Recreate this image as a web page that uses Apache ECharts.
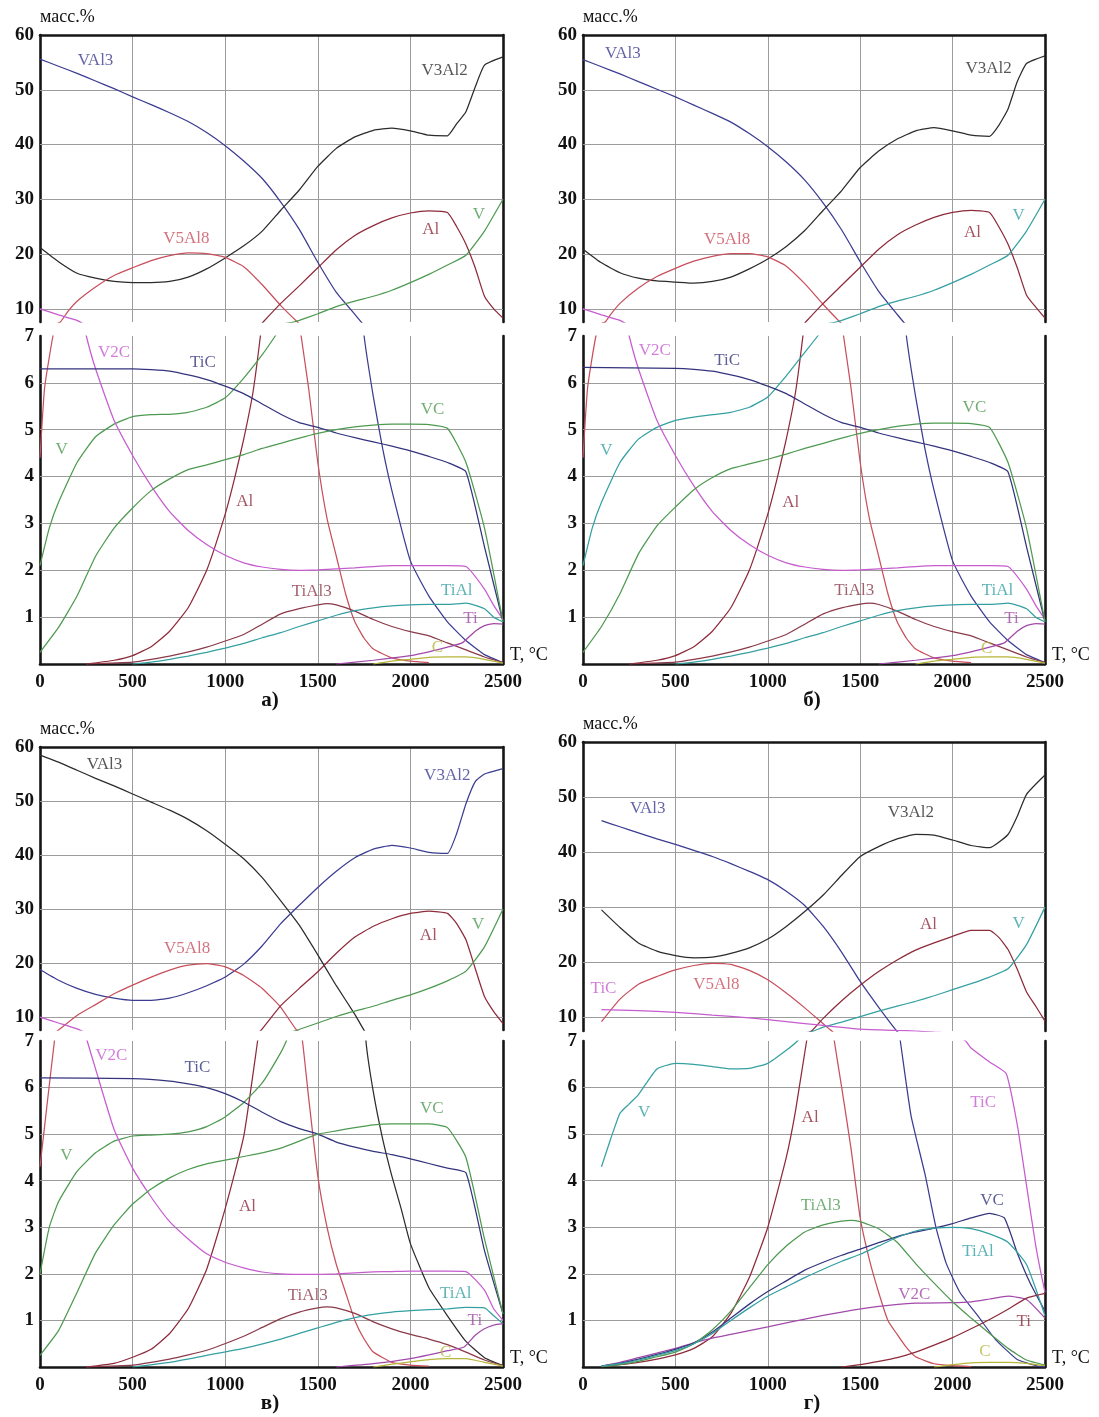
<!DOCTYPE html>
<html><head><meta charset="utf-8">
<script src="https://cdn.jsdelivr.net/npm/echarts@6/dist/echarts.min.js"></script>
<style>html,body{margin:0;padding:0;background:#fff}#c{width:1099px;height:1417px}</style>
</head><body><div id="c"></div><script>
// ---------- axis ticks ----------
const T_TICKS = [0, 500, 1000, 1500, 2000, 2500];
const UPPER_TICKS = [10, 20, 30, 40, 50, 60];
const UPPER_GRIDLINES = [10, 20, 30, 40, 50];
const LOWER_TICKS = [1, 2, 3, 4, 5, 6, 7];
const LOWER_GRIDLINES = [1, 2, 3, 4, 5, 6];

// ---------- panel а) ----------
const a_VAl3 = [[0,55.6],[100,54.3],[200,53],[300,51.6],[400,50.2],[500,48.7],[600,47.3],[700,45.8],[800,44.2],[900,42.2],[1000,39.8],[1100,37],[1200,33.8],[1300,29.5],[1400,24.5],[1500,18.5],[1600,13],[1700,9],[1750,7],[1800,5.7],[1850,4.6],[1900,3.7],[2000,2.2],[2100,1.45],[2200,0.9],[2300,0.5],[2400,0.2],[2500,0.03]];
const a_V3Al2 = [[0,21.2],[100,18.6],[200,16.5],[300,15.6],[400,15],[500,14.8],[600,14.8],[700,15],[800,15.8],[900,17.3],[1000,19.3],[1100,21.5],[1200,24.2],[1300,28],[1400,31.7],[1500,36],[1600,39.3],[1700,41.4],[1800,42.6],[1900,43],[2000,42.5],[2100,41.7],[2200,41.6],[2250,43.8],[2300,46],[2350,50.5],[2400,54.5],[2500,56]];
const a_V5Al8 = [[0,4.4],[25,5.9],[70,7],[110,7.6],[150,9.5],[200,11.4],[300,14],[400,16.1],[500,17.5],[600,18.8],[700,19.7],[800,20.2],[900,20.1],[1000,19.4],[1100,17.7],[1200,14.4],[1300,10.6],[1390,7.6],[1410,7],[1450,5.9],[1500,4.3],[1550,3.1],[1600,2.3],[1650,1.5],[1700,0.9],[1750,0.55],[1800,0.32],[1900,0.13],[2000,0.06],[2100,0.03]];
const a_Al = [[250,0],[400,0.08],[500,0.18],[600,0.37],[700,0.7],[800,1.2],[900,2.0],[1000,3.2],[1050,3.95],[1100,4.8],[1150,5.8],[1190,7],[1205,7.6],[1300,11],[1400,14.2],[1500,17.5],[1600,20.8],[1700,23.4],[1800,25.2],[1900,26.6],[2000,27.5],[2100,27.9],[2200,27.6],[2250,25],[2300,21.8],[2350,17.5],[2400,12.3],[2450,10],[2500,8.3]];
const a_V = [[0,2.1],[50,2.9],[100,3.45],[200,4.3],[300,4.85],[400,5.12],[500,5.28],[600,5.32],[700,5.33],[800,5.37],[900,5.48],[1000,5.68],[1100,6.1],[1200,6.6],[1270,7],[1370,7.6],[1400,7.9],[1500,9.1],[1600,10.4],[1700,11.4],[1800,12.3],[1900,13.4],[2000,14.8],[2100,16.3],[2200,18],[2300,19.8],[2400,24.2],[2500,30]];
const a_V2C = [[0,10],[100,8.9],[200,7.9],[250,7],[300,6.3],[400,5.2],[500,4.45],[600,3.8],[700,3.25],[800,2.85],[900,2.55],[1000,2.32],[1100,2.16],[1200,2.07],[1300,2.02],[1400,2.0],[1500,2.01],[1600,2.03],[1700,2.05],[1800,2.08],[1900,2.1],[2000,2.1],[2100,2.1],[2200,2.1],[2300,2.08],[2400,1.6],[2450,1.25],[2500,0.95]];
const a_TiC = [[0,6.3],[500,6.3],[600,6.28],[700,6.25],[800,6.17],[900,6.07],[1000,5.93],[1100,5.77],[1200,5.55],[1300,5.33],[1400,5.15],[1500,5.05],[1600,4.93],[1700,4.83],[1800,4.74],[1900,4.65],[2000,4.55],[2100,4.43],[2200,4.3],[2300,4.1],[2400,2.5],[2500,0.9]];
const a_VC = [[0,0.25],[100,0.78],[200,1.45],[300,2.3],[400,2.9],[500,3.33],[600,3.7],[700,3.95],[800,4.15],[900,4.25],[1000,4.36],[1100,4.47],[1200,4.6],[1300,4.71],[1400,4.82],[1500,4.92],[1600,5.0],[1700,5.06],[1800,5.1],[1900,5.12],[2000,5.12],[2100,5.11],[2200,5.03],[2300,4.3],[2400,2.9],[2500,0.9]];
const a_TiAl3 = [[250,0],[500,0.04],[700,0.17],[900,0.36],[1100,0.63],[1200,0.85],[1300,1.07],[1400,1.18],[1500,1.26],[1550,1.29],[1600,1.26],[1700,1.13],[1800,0.95],[1900,0.8],[2000,0.69],[2100,0.6],[2200,0.45],[2300,0.3],[2400,0.15],[2500,0.03]];
const a_TiAl = [[500,0],[600,0.04],[700,0.1],[800,0.17],[900,0.25],[1000,0.34],[1100,0.44],[1200,0.56],[1300,0.67],[1400,0.8],[1500,0.92],[1600,1.04],[1700,1.14],[1800,1.2],[1900,1.24],[2000,1.26],[2100,1.27],[2200,1.27],[2300,1.3],[2400,1.18],[2450,1.0],[2500,0.9]];
const a_Ti = [[1600,0],[1800,0.08],[2000,0.18],[2100,0.26],[2200,0.36],[2280,0.45],[2350,0.7],[2400,0.82],[2450,0.86],[2500,0.85]];
const a_C = [[1800,0],[1900,0.06],[2000,0.1],[2100,0.14],[2200,0.15],[2300,0.15],[2400,0.1],[2500,0.02]];

// ---------- panel б) ----------
const b_VAl3 = [[0,55.5],[100,54.2],[200,52.9],[300,51.5],[400,50.1],[500,48.7],[600,47.2],[700,45.7],[800,44.1],[900,42],[1000,39.6],[1100,36.8],[1200,33.5],[1300,29.3],[1400,24.4],[1500,18.6],[1600,13.2],[1700,9],[1750,7],[1800,5.7],[1850,4.6],[1900,3.7],[2000,2.2],[2100,1.45],[2200,0.9],[2300,0.5],[2400,0.2],[2500,0.03]];
const b_V3Al2 = [[0,20.9],[100,18.4],[200,16.6],[300,15.6],[400,15.1],[500,14.9],[600,14.7],[700,15],[800,15.8],[900,17.3],[1000,19.1],[1100,21.4],[1200,24.3],[1300,28],[1400,31.6],[1500,35.8],[1600,38.8],[1700,41],[1800,42.5],[1900,43.1],[2000,42.5],[2100,41.7],[2200,41.5],[2250,43.5],[2300,46.5],[2350,51.5],[2400,54.8],[2500,56.2]];
const b_V5Al8 = [[0,4.4],[25,5.9],[70,7],[120,7.6],[150,9],[200,11],[300,13.8],[400,15.9],[500,17.4],[600,18.7],[700,19.6],[800,20.1],[900,20.1],[1000,19.5],[1100,17.8],[1200,14.6],[1300,10.8],[1390,7.6],[1410,7],[1450,5.9],[1500,4.3],[1550,3.1],[1600,2.3],[1650,1.5],[1700,0.9],[1750,0.55],[1800,0.32],[1900,0.13],[2000,0.06],[2100,0.03]];
const b_Al = [[250,0],[400,0.08],[500,0.18],[600,0.37],[700,0.7],[800,1.2],[900,2.0],[1000,3.2],[1050,3.95],[1100,4.8],[1150,5.8],[1190,7],[1205,7.6],[1300,11],[1400,14.3],[1500,17.6],[1600,20.9],[1700,23.5],[1800,25.3],[1900,26.7],[2000,27.6],[2100,28],[2200,27.6],[2250,25],[2300,21.8],[2350,17.5],[2400,12.5],[2450,10.3],[2500,8.3]];
const b_V = [[0,2.1],[50,2.9],[100,3.45],[200,4.3],[300,4.8],[400,5.05],[500,5.2],[600,5.27],[700,5.32],[800,5.37],[900,5.48],[1000,5.7],[1100,6.15],[1200,6.65],[1270,7],[1370,7.6],[1400,7.9],[1500,9.1],[1600,10.4],[1700,11.4],[1800,12.3],[1900,13.4],[2000,14.8],[2100,16.3],[2200,18],[2300,19.8],[2400,24.2],[2500,30]];
const b_V2C = [[0,10],[100,8.9],[200,7.9],[250,7],[300,6.3],[400,5.2],[500,4.45],[600,3.8],[700,3.25],[800,2.85],[900,2.55],[1000,2.32],[1100,2.16],[1200,2.07],[1300,2.02],[1400,2.0],[1500,2.01],[1600,2.03],[1700,2.05],[1800,2.08],[1900,2.1],[2000,2.1],[2100,2.1],[2200,2.1],[2300,2.08],[2400,1.6],[2450,1.25],[2500,0.95]];
const b_TiC = [[0,6.33],[500,6.31],[600,6.29],[700,6.25],[800,6.17],[900,6.07],[1000,5.93],[1100,5.77],[1200,5.55],[1300,5.33],[1400,5.15],[1500,5.05],[1600,4.93],[1700,4.83],[1800,4.74],[1900,4.65],[2000,4.55],[2100,4.43],[2200,4.3],[2300,4.1],[2400,2.5],[2500,0.9]];
const b_VC = [[0,0.25],[100,0.8],[200,1.5],[300,2.35],[400,2.95],[500,3.35],[600,3.72],[700,3.98],[800,4.17],[900,4.27],[1000,4.37],[1100,4.48],[1200,4.6],[1300,4.71],[1400,4.82],[1500,4.92],[1600,5.0],[1700,5.07],[1800,5.12],[1900,5.14],[2000,5.14],[2100,5.13],[2200,5.05],[2300,4.3],[2400,2.9],[2500,0.9]];
const b_TiAl3 = [[250,0],[500,0.04],[700,0.17],[900,0.36],[1100,0.63],[1200,0.85],[1300,1.07],[1400,1.2],[1500,1.28],[1550,1.3],[1600,1.27],[1700,1.13],[1800,0.95],[1900,0.8],[2000,0.69],[2100,0.6],[2200,0.45],[2300,0.3],[2400,0.15],[2500,0.03]];
const b_TiAl = [[500,0],[600,0.04],[700,0.1],[800,0.17],[900,0.25],[1000,0.34],[1100,0.44],[1200,0.56],[1300,0.67],[1400,0.8],[1500,0.92],[1600,1.04],[1700,1.14],[1800,1.2],[1900,1.24],[2000,1.26],[2100,1.27],[2200,1.27],[2300,1.3],[2400,1.18],[2450,1.0],[2500,0.9]];
const b_Ti = [[1600,0],[1800,0.08],[2000,0.18],[2100,0.26],[2200,0.36],[2280,0.45],[2350,0.7],[2400,0.82],[2450,0.86],[2500,0.85]];
const b_C = [[1800,0],[1900,0.06],[2000,0.1],[2100,0.14],[2200,0.15],[2300,0.15],[2400,0.1],[2500,0.02]];

// ---------- panel в) ----------
const c_VAl3 = [[0,58.5],[100,57.2],[200,55.7],[300,54.2],[400,52.8],[500,51.3],[600,49.8],[700,48.3],[800,46.6],[900,44.5],[1000,42],[1100,39.3],[1200,35.8],[1300,31.5],[1400,27],[1500,21.5],[1600,15.8],[1700,10.5],[1760,7],[1800,5.9],[1850,4.9],[1900,4.1],[1950,3.4],[2000,2.65],[2100,1.7],[2200,1.1],[2300,0.55],[2400,0.2],[2500,0.03]];
const c_V3Al2 = [[0,18.8],[100,16.8],[200,15.3],[300,14.2],[400,13.5],[500,13.1],[600,13.1],[700,13.5],[800,14.5],[900,15.8],[1000,17.4],[1100,19.8],[1200,23.2],[1300,27.3],[1400,30.7],[1500,34],[1600,37],[1700,39.5],[1800,41.1],[1900,41.8],[2000,41.3],[2100,40.5],[2200,40.3],[2250,44],[2300,49.5],[2350,53.6],[2400,55],[2500,56]];
const c_V5Al8 = [[0,4.3],[40,5.7],[78,7],[100,7.6],[200,10.3],[300,12.3],[400,14.3],[500,15.9],[600,17.4],[700,18.7],[800,19.6],[900,19.9],[1000,19.3],[1100,17.7],[1200,15.3],[1300,11.8],[1385,7.6],[1417,7],[1450,5.8],[1500,4.1],[1550,3.0],[1600,2.2],[1650,1.6],[1700,1.0],[1750,0.6],[1800,0.32],[1900,0.1],[2000,0.04],[2100,0.02]];
const c_Al = [[250,0],[400,0.08],[500,0.21],[600,0.38],[700,0.72],[800,1.25],[900,2.1],[1000,3.4],[1100,4.95],[1175,7],[1195,7.6],[1300,12.1],[1400,15.3],[1500,18.4],[1600,21.8],[1700,24.8],[1800,26.8],[1900,28.2],[2000,29.2],[2100,29.6],[2200,29.2],[2250,27.3],[2300,24.3],[2350,19],[2400,13.8],[2450,11],[2500,8.8]];
const c_V = [[0,2.0],[50,3.0],[100,3.55],[200,4.2],[300,4.6],[400,4.85],[500,4.96],[600,4.98],[700,5.0],[800,5.05],[900,5.16],[1000,5.37],[1100,5.68],[1200,6.1],[1300,6.75],[1330,7],[1390,7.6],[1500,8.9],[1600,10.1],[1700,11.1],[1800,12],[1900,13.1],[2000,14.1],[2100,15.3],[2200,16.7],[2300,18.5],[2400,23],[2500,30]];
const c_V2C = [[0,10],[100,8.9],[200,7.8],[255,7],[300,6.4],[400,5.1],[500,4.27],[600,3.65],[700,3.12],[800,2.75],[900,2.43],[1000,2.25],[1100,2.13],[1200,2.04],[1300,2.0],[1400,1.99],[1500,1.99],[1600,2.0],[1700,2.02],[1800,2.04],[1900,2.05],[2000,2.06],[2100,2.06],[2200,2.06],[2300,2.05],[2400,1.65],[2450,1.25],[2500,1.0]];
const c_TiC = [[0,6.21],[500,6.19],[700,6.14],[800,6.08],[900,6.0],[1000,5.87],[1100,5.69],[1200,5.47],[1300,5.27],[1400,5.12],[1500,5.0],[1600,4.83],[1700,4.72],[1800,4.63],[1900,4.56],[2000,4.47],[2100,4.37],[2200,4.27],[2300,4.17],[2400,2.5],[2500,1.14]];
const c_VC = [[0,0.25],[100,0.78],[200,1.6],[300,2.45],[400,3.05],[500,3.5],[600,3.82],[700,4.06],[800,4.24],[900,4.36],[1000,4.44],[1100,4.52],[1200,4.6],[1300,4.7],[1400,4.85],[1500,5.0],[1600,5.07],[1700,5.14],[1800,5.2],[1900,5.22],[2000,5.22],[2100,5.22],[2200,5.14],[2300,4.5],[2400,2.75],[2500,1.14]];
const c_TiAl3 = [[250,0],[500,0.04],[700,0.17],[900,0.36],[1100,0.66],[1200,0.85],[1300,1.04],[1400,1.18],[1500,1.27],[1550,1.29],[1600,1.27],[1700,1.15],[1800,0.97],[1900,0.82],[2000,0.7],[2100,0.6],[2200,0.48],[2300,0.32],[2400,0.15],[2500,0.03]];
const c_TiAl = [[500,0],[700,0.1],[900,0.25],[1100,0.4],[1300,0.6],[1400,0.72],[1500,0.84],[1600,0.96],[1700,1.06],[1800,1.13],[1900,1.18],[2000,1.21],[2100,1.23],[2200,1.25],[2300,1.28],[2400,1.27],[2450,1.1],[2500,0.93]];
const c_Ti = [[1600,0],[1800,0.07],[2000,0.18],[2100,0.26],[2200,0.35],[2290,0.43],[2350,0.68],[2400,0.82],[2450,0.9],[2500,0.93]];
const c_C = [[1800,0],[1900,0.06],[2000,0.11],[2100,0.16],[2200,0.18],[2300,0.18],[2400,0.1],[2500,0.02]];

// ---------- panel г) ----------
const d_VAl3 = [[100,45.7],[200,44.6],[300,43.5],[400,42.4],[500,41.4],[600,40.3],[700,39.2],[800,37.9],[900,36.5],[1000,35],[1100,32.9],[1200,30.3],[1300,26.5],[1400,21.8],[1500,16.5],[1600,11.8],[1700,7.4],[1717,7],[1775,5.4],[1850,4.15],[1910,3.0],[1965,2.23],[2040,1.6],[2140,1.08],[2230,0.6],[2350,0.16],[2460,0.02],[2500,0]];
const d_V3Al2 = [[100,29.5],[200,26.3],[300,23.5],[400,22.0],[500,21.2],[600,20.8],[700,20.9],[800,21.6],[900,22.6],[1000,24.2],[1100,26.5],[1200,29.2],[1300,32.2],[1400,35.8],[1500,39.2],[1600,41],[1700,42.4],[1800,43.2],[1900,43.1],[2000,42.2],[2100,41.2],[2200,40.8],[2300,43.2],[2350,46.5],[2400,50.5],[2500,54]];
const d_V5Al8 = [[100,9.2],[200,13.3],[300,16],[400,17.4],[500,18.6],[600,19.4],[700,19.8],[800,19.6],[900,18.5],[1000,16.8],[1100,14.4],[1200,11.7],[1300,8.8],[1350,7.4],[1360,7],[1400,6.0],[1450,4.7],[1500,3.2],[1550,2.3],[1600,1.6],[1650,1.0],[1700,0.7],[1750,0.42],[1800,0.22],[1900,0.07],[2000,0.03],[2100,0.01]];
const d_Al = [[100,0.01],[200,0.05],[300,0.1],[400,0.17],[500,0.26],[600,0.4],[700,0.65],[800,1.15],[900,1.92],[1000,3.0],[1100,4.5],[1150,5.5],[1210,7.0],[1240,7.6],[1300,9.8],[1400,13],[1500,15.8],[1600,18.3],[1700,20.4],[1800,22.2],[1900,23.5],[2000,24.7],[2100,25.8],[2200,25.8],[2250,24.5],[2300,22.3],[2350,18.7],[2400,14.6],[2450,12],[2500,9.3]];
const d_V = [[100,4.3],[150,4.9],[200,5.45],[250,5.65],[300,5.85],[400,6.4],[500,6.52],[600,6.5],[700,6.45],[800,6.4],[900,6.41],[1000,6.52],[1100,6.8],[1160,7.0],[1240,7.4],[1300,8.2],[1400,9.1],[1500,10.1],[1600,11.1],[1700,12],[1800,12.9],[1900,13.9],[2000,15],[2100,16.1],[2200,17.3],[2300,18.8],[2400,23.2],[2500,30]];
const d_TiC = [[100,11.4],[300,11.2],[500,10.9],[700,10.4],[900,9.9],[1100,9.2],[1300,8.5],[1500,7.85],[1700,7.6],[1800,7.5],[1900,7.3],[2000,7.15],[2070,7.0],[2100,6.85],[2200,6.55],[2290,6.3],[2350,5.2],[2400,3.9],[2450,2.6],[2500,1.6]];
const d_V2C = [[100,0.02],[200,0.1],[300,0.2],[400,0.3],[500,0.4],[600,0.52],[700,0.62],[800,0.7],[1000,0.86],[1200,1.03],[1400,1.18],[1600,1.3],[1800,1.37],[2000,1.38],[2100,1.4],[2200,1.46],[2300,1.52],[2400,1.45],[2500,1.05]];
const d_VC = [[100,0.02],[200,0.08],[300,0.17],[400,0.27],[500,0.38],[600,0.52],[700,0.75],[800,1.05],[900,1.35],[1000,1.62],[1100,1.85],[1200,2.08],[1300,2.25],[1400,2.4],[1500,2.53],[1600,2.67],[1700,2.8],[1800,2.9],[1900,2.98],[2000,3.08],[2100,3.2],[2200,3.3],[2280,3.2],[2350,2.45],[2420,1.8],[2500,1.2]];
const d_TiAl3 = [[100,0.01],[200,0.05],[300,0.12],[400,0.22],[500,0.32],[600,0.5],[700,0.8],[800,1.2],[900,1.7],[1000,2.2],[1100,2.6],[1200,2.9],[1300,3.05],[1400,3.13],[1450,3.15],[1500,3.12],[1600,2.97],[1700,2.68],[1800,2.22],[1900,1.8],[2000,1.4],[2100,1.05],[2200,0.72],[2300,0.4],[2400,0.15],[2500,0.04]];
const d_TiAl = [[100,0.02],[200,0.07],[300,0.15],[400,0.25],[500,0.35],[600,0.5],[700,0.72],[800,1.0],[900,1.27],[1000,1.52],[1100,1.72],[1200,1.92],[1300,2.1],[1400,2.27],[1500,2.42],[1600,2.6],[1700,2.78],[1800,2.92],[1900,2.98],[2000,3.0],[2100,2.97],[2200,2.86],[2300,2.68],[2400,2.2],[2500,1.1]];
const d_Ti = [[1400,0],[1500,0.05],[1600,0.12],[1700,0.2],[1800,0.32],[1900,0.47],[2000,0.63],[2100,0.82],[2200,1.02],[2300,1.24],[2400,1.48],[2500,1.58]];
const d_C = [[1900,0],[2000,0.05],[2100,0.09],[2200,0.1],[2300,0.1],[2400,0.08],[2500,0.03]];

// ---------- styles / layout ----------
const FONT = '"Liberation Serif","Times New Roman",serif';
const COL = {navy:'#3c3c92', black:'#2c2c2c', red:'#c8505c', dred:'#8e2b3b', green:'#4e9a50', teal:'#35a0a2',
             mag:'#c65ccf', purp:'#a24aa9', brown:'#8b3a4a', olive:'#b6b63a', tic:'#34347e'};

const panels = [
  {left:40, width:463, upTop:35, upBottom:322, upMin:7.6, loTop:336, loBottom:664, cap:'а)', capX:270, capY:701,
   curves:[[a_VAl3,COL.navy],[a_V3Al2,COL.black],[a_V5Al8,COL.red],[a_Al,COL.dred],[a_V,COL.green],[a_V2C,COL.mag],[a_TiC,COL.tic],[a_VC,COL.green],[a_TiAl3,COL.brown],[a_TiAl,COL.teal],[a_Ti,COL.purp],[a_C,COL.olive]],
   up:[['VAl3',300,55.3,COL.navy],['V3Al2',2185,53.5,COL.black],['V5Al8',790,22.8,COL.red],['Al',2110,24.5,COL.dred],['V',2370,27.2,COL.green]],
   lo:[['V2C',400,6.64,COL.mag],['TiC',880,6.43,COL.tic],['VC',2120,5.43,COL.green],['V',117,4.57,COL.green],['Al',1105,3.46,COL.dred],['TiAl3',1467,1.54,COL.brown],['TiAl',2250,1.57,COL.teal],['Ti',2325,0.96,COL.purp],['C',2146,0.36,COL.olive]]},
  {left:583, width:462, upTop:35, upBottom:322, upMin:7.6, loTop:336, loBottom:664, cap:'б)', capX:812, capY:701,
   curves:[[b_VAl3,COL.navy],[b_V3Al2,COL.black],[b_V5Al8,COL.red],[b_Al,COL.dred],[b_V,COL.teal],[b_V2C,COL.mag],[b_TiC,COL.tic],[b_VC,COL.green],[b_TiAl3,COL.brown],[b_TiAl,COL.teal],[b_Ti,COL.purp],[b_C,COL.olive]],
   up:[['VAl3',216,56.7,COL.navy],['V3Al2',2195,53.8,COL.black],['V5Al8',780,22.6,COL.red],['Al',2108,24,COL.dred],['V',2357,27,COL.teal]],
   lo:[['V2C',388,6.68,COL.mag],['TiC',780,6.47,COL.tic],['VC',2118,5.47,COL.green],['V',126,4.55,COL.teal],['Al',1124,3.45,COL.dred],['TiAl3',1468,1.56,COL.brown],['TiAl',2243,1.56,COL.teal],['Ti',2319,0.96,COL.purp],['C',2185,0.32,COL.olive]]},
  {left:40, width:463, upTop:747, upBottom:1030, upMin:7.6, loTop:1041, loBottom:1367, cap:'в)', capX:270, capY:1404,
   curves:[[c_VAl3,COL.black],[c_V3Al2,COL.navy],[c_V5Al8,COL.red],[c_Al,COL.dred],[c_V,COL.green],[c_V2C,COL.mag],[c_TiC,COL.tic],[c_VC,COL.green],[c_TiAl3,COL.brown],[c_TiAl,COL.teal],[c_Ti,COL.purp],[c_C,COL.olive]],
   up:[['VAl3',348,56.8,COL.black],['V3Al2',2199,54.7,COL.navy],['V5Al8',794,22.6,COL.red],['Al',2097,25,COL.dred],['V',2366,27.2,COL.green]],
   lo:[['V2C',385,6.69,COL.mag],['TiC',850,6.44,COL.tic],['VC',2115,5.55,COL.green],['V',143,4.55,COL.green],['Al',1120,3.44,COL.dred],['TiAl3',1446,1.54,COL.brown],['TiAl',2245,1.57,COL.teal],['Ti',2348,1.0,COL.purp],['C',2190,0.32,COL.olive]]},
  {left:583, width:462, upTop:742, upBottom:1031, upMin:7.5, loTop:1041, loBottom:1367, cap:'г)', capX:812, capY:1404,
   curves:[[d_VAl3,COL.navy],[d_V3Al2,COL.black],[d_V5Al8,COL.red],[d_Al,COL.dred],[d_V,COL.teal],[d_TiC,COL.mag],[d_V2C,COL.purp],[d_VC,COL.tic],[d_TiAl3,COL.green],[d_TiAl,COL.teal],[d_Ti,COL.dred],[d_C,COL.olive]],
   up:[['VAl3',350,48,COL.navy],['V3Al2',1774,47.2,COL.black],['Al',1870,26.8,COL.dred],['V',2357,27.1,COL.teal],['TiC',111,15.3,COL.mag],['V5Al8',722,15.9,COL.red]],
   lo:[['V',331,5.47,COL.teal],['Al',1229,5.36,COL.dred],['TiC',2165,5.68,COL.mag],['TiAl3',1286,3.46,COL.green],['VC',2213,3.58,COL.tic],['TiAl',2137,2.48,COL.teal],['V2C',1793,1.55,COL.purp],['Ti',2385,0.98,COL.dred],['C',2175,0.34,COL.olive]]}
];

const grid=[], xAxis=[], yAxis=[], series=[], graphic=[];
const frame = {show:true, lineStyle:{color:'#161616', width:2.6}};
const gridLineStyle = {color:'#9c9c9c', width:1};
const tickFont = {fontFamily:FONT, fontWeight:'bold', fontSize:19, color:'#111'};
const plain = v => String(Math.round(v));

panels.forEach(p => {
  ['up','lo'].forEach(part => {
    const isUp = part === 'up';
    const gi = grid.length;
    const top = p[part+'Top'], bottom = p[part+'Bottom'];
    const ymin = isUp ? p.upMin : 0, ymax = isUp ? 60 : 7;
    grid.push({left:p.left, top:top, width:p.width, height:bottom-top});
    xAxis.push({
      gridIndex:gi, type:'value', min:0, max:2500, interval:500,
      position: isUp ? 'top' : 'bottom',
      axisLine: frame, axisTick:{show:false},
      axisLabel: isUp ? {show:false} : Object.assign({show:true, margin:9, customValues:T_TICKS, formatter:plain}, tickFont),
      splitLine:{show:true, lineStyle:gridLineStyle},
      name: isUp ? '' : 'T, °C', nameLocation:'end', nameGap:7,
      nameTextStyle:{fontFamily:FONT, fontSize:18, color:'#111', verticalAlign:'bottom'}
    });
    const yi = yAxis.length;
    yAxis.push({
      gridIndex:gi, type:'value', min:ymin, max:ymax, position:'left',
      axisLine: frame, axisTick:{show:false, customValues: isUp ? UPPER_TICKS : LOWER_TICKS},
      splitLine:{show:false},
      axisLabel: Object.assign({show:true, margin:6, customValues: isUp ? UPPER_TICKS : LOWER_TICKS, formatter:plain}, tickFont),
      name: isUp ? 'масс.%' : '', nameLocation:'end', nameGap:9,
      nameTextStyle:{fontFamily:FONT, fontSize:18, color:'#111', align:'left'}
    });
    yAxis.push({
      gridIndex:gi, type:'value', min:ymin, max:ymax, position:'right',
      axisLine: frame, axisTick:{show:false}, axisLabel:{show:false}, splitLine:{show:false}
    });
    p.curves.forEach((c, k) => {
      const s = {
        type:'line', xAxisIndex:gi, yAxisIndex:yi, data:c[0], showSymbol:false, symbol:'none',
        smooth:0.15, clip:true, silent:true, z:3,
        lineStyle:{color:c[1], width:1.25}, itemStyle:{color:c[1]}
      };
      if (k === 0) {
        s.markLine = {silent:true, symbol:'none', label:{show:false}, z:1,
          lineStyle:{color:'#9c9c9c', width:1, type:'solid'},
          data:(isUp ? UPPER_GRIDLINES : LOWER_GRIDLINES).map(v => ({yAxis:v}))};
      }
      series.push(s);
    });
    series.push({
      type:'scatter', xAxisIndex:gi, yAxisIndex:yi, symbolSize:0, silent:true, z:10,
      data:p[part].map(l => ({value:[l[1], l[2]], label:{formatter:l[0], color:l[3]}})),
      label:{show:true, position:'inside', fontFamily:FONT, fontSize:17}
    });
  });
  graphic.push({type:'text', x:p.capX, y:p.capY,
    style:{text:p.cap, font:'bold 21px '+FONT, fill:'#111', textAlign:'center', textVerticalAlign:'middle'}});
});

const chart = echarts.init(document.getElementById('c'), null, {renderer:'canvas'});
chart.setOption({animation:false, backgroundColor:'#fff', grid, xAxis, yAxis, series, graphic});
</script></body></html>
